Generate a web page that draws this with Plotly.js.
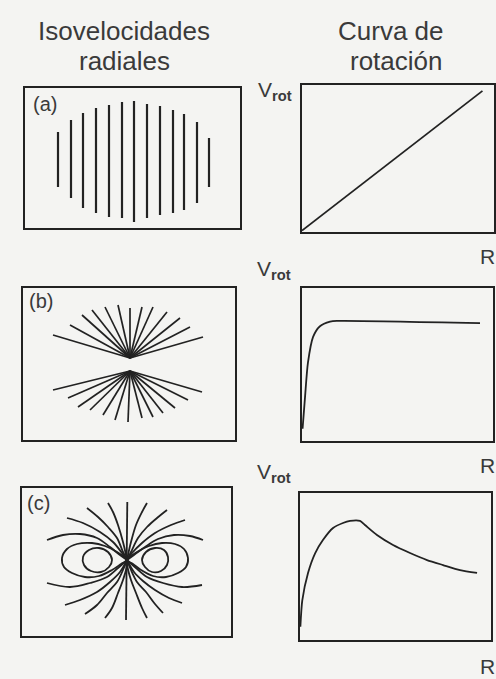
<!DOCTYPE html>
<html>
<head>
<meta charset="utf-8">
<script src="https://cdn.plot.ly/plotly-3.0.1.min.js"></script>
<style>
  html, body { margin: 0; padding: 0; background: #f4f4f2; }
  #chart { width: 496px; height: 679px; }
</style>
</head>
<body>
<div id="chart"></div>
<script>
// ---- (a) solid-body rotation: straight isovelocity lines ----
const isoA_x      = [-75, -62, -50, -37, -24, -11, 1, 14, 27, 40, 51, 64, 76];
const isoA_top    = [28, 40, 47, 52, 55, 58, 59, 56, 54, 50, 46, 38, 22];
const isoA_bottom = [-27, -38, -48, -53, -57, -58, -62, -58, -55, -53, -50, -43, -27];

// ---- (b) flat rotation curve: radial isovelocity fan ----
const fanB_up_origin = [0, 5];
const fanB_up_x  = [-77, -60, -48, -38, -25, -12, 0, 12, 23, 37, 50, 60, 73];
const fanB_up_y  = [28, 38, 48, 53, 56, 58, 55, 56, 56, 51, 45, 36, 26];
const fanB_lo_origin = [0, -8];
const fanB_lo_x  = [-77, -62, -52, -40, -27, -15, -2, 12, 23, 33, 45, 58, 72];
const fanB_lo_y  = [-27, -35, -44, -47, -52, -57, -59, -55, -54, -50, -45, -37, -29];

// ---- (c) rising-then-falling curve: bent isovelocity curves ----
const curvesC = [
  // upper left
  {x: [0, -7, -17, -30, -47, -64, -80], y: [0, 5, 13, 22, 26, 25, 20]},
  {x: [0, -5, -14, -27, -44, -60], y: [0, 7, 18, 28, 37, 42]},
  {x: [0, -4, -10, -19, -29, -40], y: [0, 8, 22, 33, 43, 52]},
  {x: [0, -1, -4, -9, -14, -19], y: [0, 5, 18, 35, 48, 57]},
  // upper right
  {x: [0, 1, 4, 9, 15, 20], y: [0, 5, 18, 35, 48, 57]},
  {x: [0, 4, 11, 20, 30, 40], y: [0, 8, 22, 33, 42, 50]},
  {x: [0, 5, 15, 28, 44, 58], y: [0, 7, 17, 27, 35, 40]},
  {x: [0, 7, 18, 31, 47, 63, 76], y: [0, 5, 13, 21, 25, 24, 20]},
  // lower left
  {x: [0, -9, -20, -37, -57, -80], y: [0, -8, -17, -23, -27, -23]},
  {x: [0, -7, -17, -30, -47, -62], y: [0, -12, -22, -32, -40, -45]},
  {x: [0, -4, -10, -20, -30, -42], y: [0, -10, -22, -33, -45, -54]},
  {x: [0, -0.3, -4, -9, -15, -22], y: [0, -7, -20, -33, -48, -58]},
  // lower right
  {x: [0, 0.5, 4, 9, 15, 20], y: [0, -7, -20, -33, -48, -58]},
  {x: [0, 4, 10, 19, 28, 36], y: [0, -10, -22, -32, -44, -53]},
  {x: [0, 7, 16, 28, 42, 55], y: [0, -12, -21, -30, -38, -43]},
  {x: [0, 9, 20, 36, 55, 75], y: [0, -8, -17, -23, -27, -25]}
];
const axisC_x = [0.3, -1];
const axisC_y = [58, -60];
const loopsC = [
  // inner left
  {x: [-15, -19, -28, -38, -44, -43, -36, -26, -18, -15], y: [0, 8, 12, 10, 3, -5, -11, -12, -7, 0]},
  // outer left
  {x: [0, -10, -22, -35, -50, -60, -65, -63, -55, -42, -28, -15, -6, 0], y: [0, 8, 14, 17, 16, 11, 2, -7, -13, -17, -16, -10, -4, 0]},
  // inner right
  {x: [15, 19, 28, 37, 41, 40, 34, 25, 18, 15], y: [0, 8, 12, 10, 3, -5, -11, -12, -7, 0]},
  // outer right
  {x: [0, 10, 22, 35, 48, 57, 61, 59, 51, 39, 26, 14, 6, 0], y: [0, 8, 14, 17, 16, 11, 2, -7, -13, -17, -16, -10, -4, 0]}
];

// ---- rotation curves V_rot(R) ----
const rotA_R = [0, 0.94];
const rotA_V = [0.01, 0.96];
const rotB_R = [0.003, 0.016, 0.031, 0.058, 0.094, 0.147, 0.183, 0.932];
const rotB_V = [0.08, 0.29, 0.51, 0.68, 0.75, 0.78, 0.785, 0.77];
const rotC_R = [0.002, 0.012, 0.042, 0.079, 0.12, 0.173, 0.225, 0.262, 0.314, 0.34, 0.403, 0.487, 0.576, 0.665, 0.749, 0.838, 0.927];
const rotC_V = [0.09, 0.27, 0.456, 0.59, 0.68, 0.762, 0.796, 0.81, 0.81, 0.782, 0.714, 0.646, 0.592, 0.544, 0.51, 0.476, 0.456];

// ---- text ----
const headLeft  = ['Isovelocidades', 'radiales'];
const headRight = ['Curva de', 'rotación'];
const panelTags = ['(a)', '(b)', '(c)'];
const vLabel = 'V<sub><b>rot</b></sub>';
const rLabel = 'R';

// ---- layout helpers (pixel boxes on a 496 x 679 page) ----
const W = 496, H = 679;
const INK = '#222222';
function dom(x0, x1, y0, y1) {
  return { x: [x0 / W, x1 / W], y: [1 - y1 / H, 1 - y0 / H] };
}
function ax(domain, range, anchor) {
  return {
    domain: domain, range: range, anchor: anchor, showgrid: false, zeroline: false,
    showticklabels: false, ticks: '', showline: true, mirror: true,
    linecolor: INK, linewidth: 2, fixedrange: true
  };
}

const boxes = [
  { d: dom(25, 240, 88, 228),  xr: [-108, 107], yr: [-68, 72] },  // a left
  { d: dom(302, 494, 85, 232), xr: [0, 1], yr: [0, 1] },          // a right
  { d: dom(23, 235, 288, 440), xr: [-107, 105], yr: [-77, 75] },  // b left
  { d: dom(302, 493, 288, 441), xr: [0, 1], yr: [0, 1] },         // b right
  { d: dom(22, 231, 488, 636), xr: [-105, 104], yr: [-76, 72] },  // c left
  { d: dom(300, 491, 493, 640), xr: [0, 1], yr: [0, 1] }          // c right
];

const traces = [];
function line(x, y, n, w, shape, smooth) {
  traces.push({
    type: 'scatter', mode: 'lines', x: x, y: y,
    xaxis: n === 1 ? 'x' : 'x' + n, yaxis: n === 1 ? 'y' : 'y' + n,
    line: { color: INK, width: w, shape: shape || 'linear', smoothing: smooth || 1 },
    hoverinfo: 'skip', showlegend: false
  });
}

// (a) vertical isovelocity lines
(function () {
  const x = [], y = [];
  isoA_x.forEach((v, i) => { x.push(v, v, null); y.push(isoA_top[i], isoA_bottom[i], null); });
  line(x, y, 1, 2.2);
})();

// (b) radial fans
(function () {
  const x = [], y = [];
  fanB_up_x.forEach((v, i) => { x.push(fanB_up_origin[0], v, null); y.push(fanB_up_origin[1], fanB_up_y[i], null); });
  fanB_lo_x.forEach((v, i) => { x.push(fanB_lo_origin[0], v, null); y.push(fanB_lo_origin[1], fanB_lo_y[i], null); });
  line(x, y, 3, 1.7);
})();

// (c) curved contours, minor-axis line and closed loops
curvesC.forEach(c => line(c.x, c.y, 5, 1.8, 'spline'));
line(axisC_x, axisC_y, 5, 1.8);
loopsC.forEach(c => line(c.x, c.y, 5, 1.8, 'spline'));

// rotation curves
line(rotA_R, rotA_V, 2, 1.8);
line(rotB_R, rotB_V, 4, 1.8, 'spline', 0.7);
line(rotC_R, rotC_V, 6, 1.8, 'spline', 0.7);

const layout = {
  width: W, height: H,
  margin: { l: 0, r: 0, t: 0, b: 0 },
  paper_bgcolor: '#f4f4f2', plot_bgcolor: '#f4f4f2',
  showlegend: false,
  font: { family: 'Liberation Sans, Arial, sans-serif', color: '#3a3a3a' },
  annotations: []
};
boxes.forEach((b, i) => {
  const n = i + 1;
  const sfx = n === 1 ? '' : String(n);
  layout['xaxis' + sfx] = ax(b.d.x, b.xr, 'y' + sfx);
  layout['yaxis' + sfx] = ax(b.d.y, b.yr, 'x' + sfx);
});

function note(text, px, py, size, xanchor) {
  layout.annotations.push({
    text: text, xref: 'paper', yref: 'paper', x: px / W, y: 1 - py / H,
    xanchor: xanchor || 'center', yanchor: 'middle', showarrow: false,
    font: { size: size, color: '#3a3a3a', family: 'Liberation Sans, Arial, sans-serif' }
  });
}
note(headLeft[0], 124, 31, 26);
note(headLeft[1], 124, 61, 26);
note(headRight[0], 391, 31, 26);
note(headRight[1], 396, 61, 26);
note(panelTags[0], 45, 104, 20);
note(panelTags[1], 41, 301, 20);
note(panelTags[2], 38, 503, 20);
note(vLabel, 256, 91, 21, 'left');
note(vLabel, 255, 270, 21, 'left');
note(vLabel, 255, 473, 21, 'left');
note(rLabel, 487, 256, 21);
note(rLabel, 487, 465, 21);
note(rLabel, 487, 666, 21);

Plotly.newPlot('chart', traces, layout, { staticPlot: true, displayModeBar: false });
</script>
</body>
</html>
